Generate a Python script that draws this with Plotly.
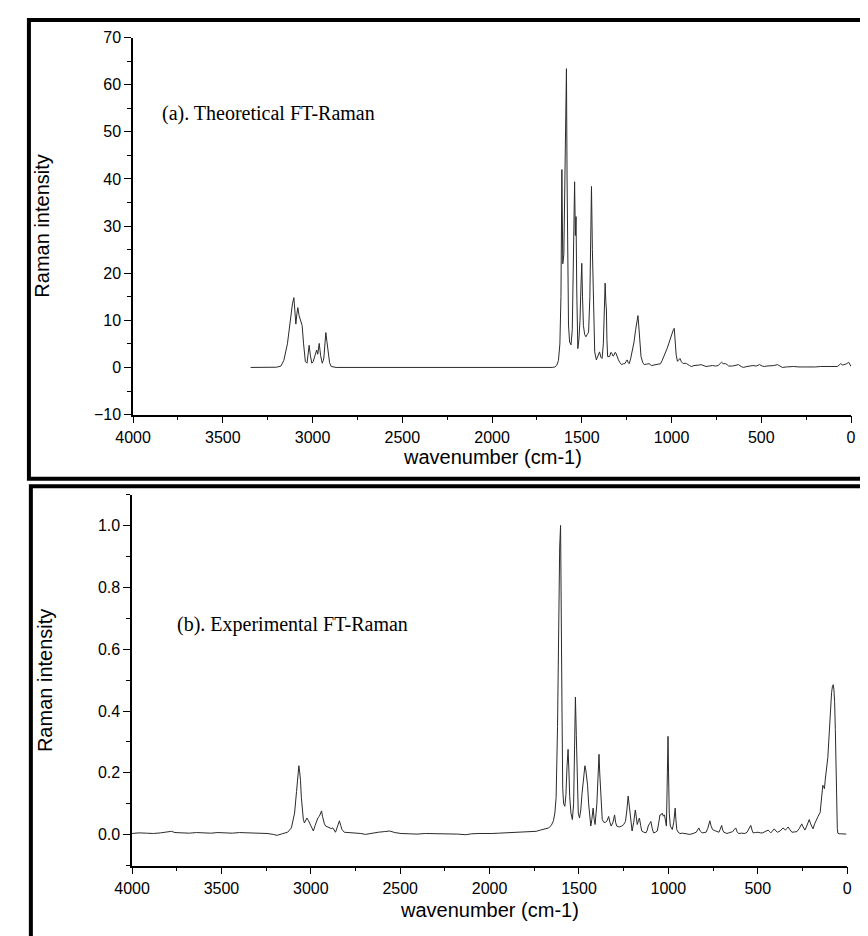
import plotly.graph_objects as go

# ---------------- data ----------------
theo_wn = [3345, 3250, 3200, 3176, 3160, 3140, 3125, 3112, 3104, 3098, 3093, 3087, 3082, 3075, 3067, 3058,
           3050, 3040, 3031, 3025, 3019, 3012, 3004, 2997, 2991, 2983, 2977, 2971, 2967, 2963, 2955, 2946,
           2940, 2937, 2931, 2926, 2920, 2914, 2905, 2896, 2880, 2869,
           1665, 1650, 1640, 1630, 1622, 1616, 1611, 1606, 1600, 1594, 1589, 1585.5, 1582, 1578, 1574, 1568,
           1560, 1553, 1547, 1540, 1536, 1532, 1528, 1524, 1522, 1516, 1510, 1504, 1500, 1496, 1491, 1484,
           1477, 1470, 1462, 1455, 1449, 1446, 1441, 1437, 1432, 1428, 1419, 1410, 1401, 1394, 1387, 1380,
           1374, 1370, 1366, 1363, 1360, 1356, 1345, 1338, 1332, 1326, 1320, 1315, 1309, 1302, 1296, 1287,
           1278, 1268, 1260, 1253, 1247, 1241, 1236, 1228, 1220, 1214, 1209, 1200, 1192, 1187, 1183, 1179,
           1175, 1170, 1160, 1152, 1140, 1125, 1112, 1100, 1088, 1075, 1061, 1052, 1043, 1034, 1025, 1016,
           1007, 996, 990, 985, 980, 974, 967, 960, 953, 945, 935, 925, 916, 900, 889, 875, 862, 848, 835,
           820, 808, 790, 772, 755, 740, 728, 721, 712, 699, 690, 682, 660, 640, 627, 612, 600, 580, 560,
           546, 528, 510, 495, 483, 468, 455, 430, 410, 395, 383, 360, 340, 320, 290, 260, 230, 200, 170,
           139, 110, 90, 76, 66, 58, 46, 35, 24, 13, 6, 0]
theo_int = [0, 0, 0.05, 0.3, 1.5, 5, 10, 13.5, 14.8, 12, 9.2, 11.5, 12.7, 11, 9.9, 8.9,
            5, 1.25, 0.9, 2.5, 4.7, 2.5, 0.9, 1.2, 1.9, 3, 3.7, 2.8, 3.8, 5.1, 2.5, 0.9,
            1.5, 2, 5, 7.4, 5.5, 3.4, 1, 0.2, 0.02, 0,
            0, 0.1, 0.4, 1.5, 5, 15, 42, 22, 24, 40, 55, 63.4, 40, 18, 9, 5.4,
            4.8, 8, 20, 39.4, 28, 32, 16, 6, 4.0, 6, 10, 18, 22.1, 15, 8.9, 7,
            6.5, 7, 7.5, 15, 32, 38.4, 25, 17.2, 8, 3.3, 1.6, 2.5, 3.3, 2.2, 1.9, 5,
            12, 17.9, 14, 12.4, 6, 2.3, 2.3, 3.2, 3.0, 2.4, 2.6, 3.2, 3.0, 2.0, 1.6, 1.0,
            0.6, 0.8, 0.8, 1.3, 1.6, 1.0, 0.8, 1.8, 3.3, 4.5, 5.4, 8, 10.3, 11.0, 9, 6.8,
            4, 2.3, 1.0, 0.6, 0.7, 0.8, 0.4, 0.5, 0.6, 0.6, 0.8, 1.5, 2.3, 3.0, 4.0, 5,
            6.1, 7.5, 8.0, 8.3, 5, 2.6, 1.3, 1.6, 1.9, 1.2, 0.8, 0.9, 0.8, 0.4, 0.2, 0.4, 0.4, 0.5, 0.6,
            0.3, 0.2, 0.3, 0.4, 0.3, 0.4, 0.9, 1.1, 0.8, 0.8, 0.6, 0.3, 0.3, 0.5, 0.6, 0.2, 0, 0.2, 0.3,
            0.4, 0.3, 0.6, 0.3, 0.2, 0.3, 0.3, 0.4, 0.6, 0.2, 0, 0.1, 0.2, 0.2, 0.1, 0.1, 0, 0.1, 0.2,
            0.2, 0.2, 0.2, 0.2, 0.5, 0.8, 0.5, 0.6, 0.8, 1.1, 0.6, 0.2]

exp_wn = [4000, 3960, 3920, 3880, 3840, 3800, 3780, 3760, 3720, 3680, 3640, 3600, 3560, 3520, 3480, 3440,
          3400, 3360, 3320, 3280, 3245, 3210, 3189, 3160, 3130, 3109, 3091, 3080, 3076, 3070, 3067, 3062,
          3058, 3053, 3049, 3042, 3036, 3029, 3022, 3013, 3004, 2995, 2986, 2976, 2967, 2960, 2953, 2946,
          2940, 2935, 2931, 2924, 2917, 2905, 2895, 2886, 2877, 2870, 2862, 2852, 2845, 2840, 2833, 2826,
          2813, 2780, 2749, 2720, 2695, 2660, 2623, 2590, 2559, 2530, 2496, 2450, 2405, 2360, 2314, 2270,
          2223, 2180, 2133, 2100, 2060, 2020, 1987, 1950, 1915, 1880, 1842, 1800, 1769, 1740, 1715, 1690,
          1670, 1655, 1643, 1635, 1628, 1620, 1614, 1608, 1603, 1599, 1595, 1591, 1586, 1579, 1573, 1567,
          1561, 1556, 1552, 1545, 1537, 1530, 1525, 1520, 1515, 1510, 1504, 1497, 1490, 1483, 1474, 1467,
          1462, 1456, 1452, 1446, 1440, 1434, 1428, 1421, 1415, 1410, 1400, 1393, 1388, 1384, 1380, 1375,
          1370, 1361, 1352, 1343, 1334, 1327, 1320, 1310, 1301, 1295, 1289, 1275, 1261, 1250, 1240, 1232,
          1225, 1218, 1212, 1203, 1194, 1185, 1180, 1174, 1168, 1162, 1155, 1149, 1137, 1125, 1118, 1113,
          1105, 1098, 1090, 1083, 1072, 1062, 1055, 1047, 1040, 1034, 1028, 1022, 1016, 1011, 1007, 1004,
          1002, 999, 995, 989, 983, 978, 970, 965, 962, 958, 953, 945, 935, 920, 900, 880, 862, 844, 837,
          830, 822, 811, 800, 789, 780, 773, 768, 762, 753, 744, 735, 725, 717, 710, 702, 696, 690, 681,
          672, 662, 653, 640, 630, 623, 616, 608, 590, 572, 560, 550, 543, 539, 532, 526, 512, 499, 485,
          472, 460, 450, 441, 434, 427, 418, 408, 398, 390, 375, 366, 358, 352, 345, 338, 330, 322, 315,
          309, 295, 281, 268, 260, 254, 246, 236, 228, 220, 212, 204, 196, 191, 182, 173, 162, 151, 145,
          140, 136, 131, 127, 122, 114, 108, 103, 97, 92, 87, 82, 78, 74, 70, 66, 62, 58, 55, 52, 45, 35,
          25, 15, 5]
exp_int = [0.004, 0.006, 0.005, 0.004, 0.006, 0.009, 0.011, 0.007, 0.006, 0.005, 0.007, 0.006, 0.005, 0.007, 0.006, 0.005,
           0.007, 0.006, 0.005, 0.006, 0.004, 0.001, -0.002, 0.003, 0.008, 0.022, 0.07, 0.14, 0.176, 0.215, 0.223, 0.2,
           0.176, 0.12, 0.08, 0.05, 0.038, 0.045, 0.054, 0.045, 0.033, 0.02, 0.012, 0.03, 0.049, 0.055, 0.059, 0.07,
           0.077, 0.06, 0.049, 0.035, 0.028, 0.025, 0.022, 0.02, 0.022, 0.014, 0.008, 0.025, 0.04, 0.045, 0.03, 0.017,
           0.008, 0.007, 0.006, 0.004, 0.001, 0.005, 0.008, 0.01, 0.012, 0.007, 0.004, 0.003, 0.002, 0.004, 0.004, 0.003,
           0.002, 0.002, 0.0, 0.003, 0.004, 0.003, 0.004, 0.005, 0.006, 0.005, 0.006, 0.007, 0.008, 0.011, 0.015, 0.018,
           0.022, 0.03, 0.045, 0.07, 0.12, 0.35, 0.7, 0.93, 1.0, 0.8, 0.4, 0.15, 0.1, 0.092, 0.13, 0.22,
           0.276, 0.2, 0.123, 0.07, 0.049, 0.1, 0.3, 0.445, 0.32, 0.14, 0.07, 0.054, 0.08, 0.133, 0.19, 0.223,
           0.21, 0.175, 0.16, 0.1, 0.05, 0.028, 0.05, 0.086, 0.05, 0.033, 0.1, 0.23, 0.26, 0.2, 0.144, 0.08,
           0.049, 0.04, 0.04, 0.045, 0.059, 0.04, 0.028, 0.04, 0.064, 0.04, 0.028, 0.025, 0.028, 0.033, 0.043, 0.08,
           0.125, 0.09, 0.049, 0.012, 0.04, 0.08, 0.06, 0.033, 0.045, 0.054, 0.03, 0.012, 0.008, 0.006, 0.015, 0.028,
           0.036, 0.043, 0.02, 0.006, 0.008, 0.012, 0.035, 0.064, 0.065, 0.07, 0.06, 0.064, 0.045, 0.028, 0.15, 0.28,
           0.318, 0.2, 0.07, 0.028, 0.02, 0.017, 0.04, 0.07, 0.086, 0.05, 0.017, 0.008, 0.004, 0.005, 0.003, 0.001, 0.004, 0.008, 0.015,
           0.022, 0.012, 0.006, 0.007, 0.008, 0.02, 0.035, 0.045, 0.03, 0.017, 0.014, 0.012, 0.009, 0.008, 0.018, 0.03, 0.015, 0.008, 0.006,
           0.004, 0.006, 0.008, 0.01, 0.018, 0.022, 0.01, 0.004, 0.005, 0.004, 0.008, 0.018, 0.026, 0.03, 0.015, 0.006, 0.007, 0.008, 0.006,
           0.006, 0.01, 0.014, 0.015, 0.01, 0.006, 0.012, 0.019, 0.012, 0.008, 0.012, 0.018, 0.022, 0.018, 0.015, 0.02, 0.025, 0.018, 0.01,
           0.008, 0.009, 0.01, 0.02, 0.03, 0.035, 0.025, 0.015, 0.025, 0.04, 0.049, 0.035, 0.022, 0.019, 0.035, 0.049, 0.06, 0.072, 0.1,
           0.14, 0.16, 0.155, 0.149, 0.18, 0.218, 0.25, 0.3, 0.37, 0.42, 0.46, 0.48, 0.485, 0.47, 0.43, 0.34, 0.2, 0.08, 0.02, 0.005, 0.003, 0.003,
           0.002, 0.003, 0.002]

x_ticks = [4000, 3500, 3000, 2500, 2000, 1500, 1000, 500, 0]
theo_yticks = [-10, 0, 10, 20, 30, 40, 50, 60, 70]
exp_yticks = [0.0, 0.2, 0.4, 0.6, 0.8, 1.0]

# ---------------- layout helpers (page pixels -> paper) ----------------
# The page body has the browser's default 8px margin, so the figure is
# offset by 8px; size it so it exactly fills the remaining window.
OFF = 8
W, H = 868 - OFF, 936 - OFF
def px(x):
    return (x - OFF) / W
def py(y):
    return 1 - (y - OFF) / H

fig = go.Figure()
line_style = dict(color="#2a2a2a", width=1)
fig.add_trace(go.Scatter(x=theo_wn, y=theo_int, mode="lines", line=line_style,
                         xaxis="x", yaxis="y", showlegend=False, hoverinfo="skip"))
fig.add_trace(go.Scatter(x=exp_wn, y=exp_int, mode="lines", line=line_style,
                         xaxis="x2", yaxis="y2", showlegend=False, hoverinfo="skip"))

tickfont = dict(family="Liberation Sans, Arial, sans-serif", size=16, color="black")
common_axis = dict(showline=True, linecolor="black", linewidth=1.5, ticks="outside",
                   ticklen=7, tickwidth=1.3, tickcolor="black", showgrid=False,
                   zeroline=False, tickfont=tickfont, mirror=False)
xminor = dict(dtick=250, ticklen=4, tickwidth=1.2, tickcolor="black", ticks="outside", showgrid=False)

fig.update_layout(
    width=W, height=H, margin=dict(l=0, r=0, t=0, b=0),
    paper_bgcolor="white", plot_bgcolor="white",
    xaxis=dict(domain=[px(118), px(855.7)], range=[4000, 0], anchor="y",
               tickvals=x_ticks, minor=xminor, **common_axis),
    yaxis=dict(domain=[py(414), py(30)], range=[-10, 70], anchor="x",
               tickvals=theo_yticks,
               minor=dict(dtick=5, tick0=0, ticklen=4, tickwidth=1.2, tickcolor="black", ticks="outside", showgrid=False),
               **common_axis),
    xaxis2=dict(domain=[px(117), px(851.7)], range=[4000, 0], anchor="y2",
                tickvals=x_ticks, minor=xminor, **common_axis),
    yaxis2=dict(domain=[py(873.5), py(495.5)], range=[-0.1, 1.1], anchor="x2",
                tickvals=exp_yticks, tickformat=".1f",
                minor=dict(dtick=0.1, tick0=0, ticklen=4, tickwidth=1.2, tickcolor="black", ticks="outside", showgrid=False),
                **common_axis),
)

# panel borders
fig.add_shape(type="rect", xref="paper", yref="paper",
              x0=px(11), x1=1.05, y0=py(479.5), y1=py(12),
              line=dict(color="black", width=4), fillcolor="rgba(0,0,0,0)", layer="above")
fig.add_shape(type="rect", xref="paper", yref="paper",
              x0=px(13), x1=1.05, y0=-0.05, y1=py(487),
              line=dict(color="black", width=4), fillcolor="rgba(0,0,0,0)", layer="above")

title_font = dict(family="Liberation Sans, Arial, sans-serif", size=20, color="black")
ylab_font = dict(family="Liberation Sans Narrow, Liberation Sans, Arial, sans-serif", size=20, color="black")
serif_font = dict(family="Liberation Serif, Times New Roman, serif", size=20, color="black")

annos = [
    dict(text="wavenumber (cm-1)", x=px(487), y=py(457), font=title_font, xanchor="center", yanchor="middle"),
    dict(text="wavenumber (cm-1)", x=px(484), y=py(919), font=title_font, xanchor="center", yanchor="middle"),
    dict(text="Raman intensity", x=px(25), y=py(222), font=ylab_font, textangle=-90, xanchor="center", yanchor="middle"),
    dict(text="Raman intensity", x=px(27), y=py(685), font=ylab_font, textangle=-90, xanchor="center", yanchor="middle"),
    dict(text="(a). Theoretical FT-Raman", x=px(146), y=py(107), font=serif_font, xanchor="left", yanchor="middle"),
    dict(text="(b). Experimental FT-Raman", x=px(161), y=py(628), font=serif_font, xanchor="left", yanchor="middle"),
]
for a in annos:
    fig.add_annotation(xref="paper", yref="paper", showarrow=False, **a)

fig.write_html("out.html")
